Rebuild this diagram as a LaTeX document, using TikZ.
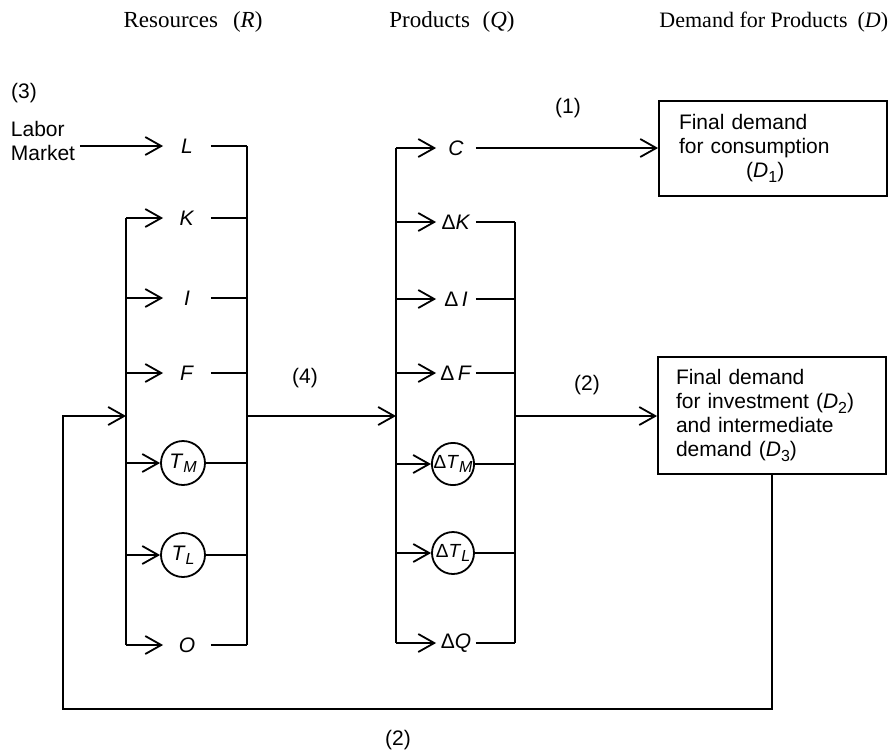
\documentclass[tikz,border=0pt]{standalone}
\usepackage{fontspec}
\setmainfont{Liberation Sans}
\newfontfamily\hdrfont{Liberation Serif}
\usetikzlibrary{arrows.meta}

\newcommand{\lowsub}[1]{\raisebox{-0.4ex}{\fontsize{8}{9}\selectfont #1}}

\begin{document}
\begin{tikzpicture}[x=0.5pt,y=-0.5pt,line width=0.9pt,
    >={Straight Barb[length=8pt,width=9pt]},
    font=\fontsize{10.5}{12}\selectfont,
    hdr/.style={font=\hdrfont\fontsize{11.5}{13}\selectfont},
    res/.style={inner sep=0pt,minimum width=23pt,minimum height=10pt},
    prd/.style={inner sep=0pt,minimum width=19pt,minimum height=10pt},
    rcirc/.style={draw,circle,inner sep=0pt,minimum size=22pt},
    pcirc/.style={draw,circle,inner sep=0pt,minimum size=21pt,font=\fontsize{9.5}{11}\selectfont},
    dbox/.style={draw,align=left,text width=94pt,inner xsep=10pt,minimum width=114pt}]
  \useasboundingbox (0,0) rectangle (891,752);
  % titles
  \node[hdr] (hR) at (193,22) {Resources\hspace{0.4em} (\textit{R})};
  \node[hdr] (hQ) at (452,22) {Products\hspace{0.3em} (\textit{Q})};
  \node[hdr,anchor=east,inner xsep=1pt,font=\hdrfont\fontsize{11}{13}\selectfont] (hD) at (891,22)
    {Demand for Products\hspace{0.2em} (\textit{D})};
  % resources
  \node (n3) at (24,93) {(3)};
  \node[align=left,anchor=west,inner xsep=2pt] (lab) at (6,141) {Labor\\Market};
  \node[res] (L) at (187,146) {\textit{L}};
  \node[res] (K) at (187,218) {\textit{K}};
  \node[res] (I) at (187,298) {\textit{I}};
  \node[res] (F) at (187,373) {\textit{F}};
  \node[rcirc] (TM) at (183,463) {\textit{T}\lowsub{\textit{M}}};
  \node[rcirc] (TL) at (183,555) {\textit{T}\lowsub{\textit{L}}};
  \node[res] (O) at (187,645) {\textit{O}};
  \coordinate (lR) at (126,0);
  \coordinate (rR) at (247,0);
  \draw[->] (lab.east |- L) -- (L.west);
  \draw (K.west -| lR) -- (O.west -| lR);
  \foreach \n in {K,I,F,TM,TL,O} \draw[->] (\n.west -| lR) -- (\n.west);
  \draw (L.east -| rR) -- (O.east -| rR);
  \foreach \n in {L,K,I,F,TM,TL,O} \draw (\n.east) -- (\n.east -| rR);
  % products
  \node[prd] (C) at (456,148) {\textit{C}};
  \node[prd] (dK) at (456,222) {Δ\textit{K}};
  \node[prd] (dI) at (456,299) {Δ\,\textit{I}};
  \node[prd] (dF) at (456,373) {Δ\,\textit{F}};
  \node[pcirc] (dTM) at (453,464) {Δ\textit{T}\lowsub{\textit{M}}};
  \node[pcirc] (dTL) at (453,553) {Δ\textit{T}\lowsub{\textit{L}}};
  \node[prd] (dQ) at (456,643) {Δ\textit{Q}};
  \coordinate (lQ) at (396,0);
  \coordinate (rQ) at (515,0);
  \draw (C.west -| lQ) -- (dQ.west -| lQ);
  \foreach \n in {C,dK,dI,dF,dTM,dTL,dQ} \draw[->] (\n.west -| lQ) -- (\n.west);
  \draw (dK.east -| rQ) -- (dQ.east -| rQ);
  \foreach \n in {dK,dI,dF,dTM,dTL,dQ} \draw (\n.east) -- (\n.east -| rQ);
  % demand
  \node[dbox,minimum height=47.5pt] (D1) at (773,148.5)
    {Final demand\\for consumption\\\hspace*{3.2em}(\textit{D}\lowsub{1})};
  \node[dbox,minimum height=58.5pt,inner xsep=9pt,text width=96pt] (D2) at (772,415.5)
    {Final demand\\for investment (\textit{D}\lowsub{2})\\and intermediate\\demand (\textit{D}\lowsub{3})};
  \draw[->] (C.east) -- (C.east -| D1.west);
  % flows
  \coordinate (mixR) at (247,416);
  \coordinate (mixQ) at (396,416);
  \coordinate (outQ) at (515,416);
  \coordinate (fbin) at (126,416);
  \draw[->] (mixR) -- (mixQ);
  \draw[->] (outQ) -- (outQ -| D2.west);
  \draw[->] (D2.south) |- (63,709) |- (fbin);
  \node (n1) at (568,108) {(1)};
  \node (n4) at (305,378) {(4)};
  \node (n2a) at (587,385) {(2)};
  \node (n2b) at (398,740) {(2)};
\end{tikzpicture}
\end{document}
